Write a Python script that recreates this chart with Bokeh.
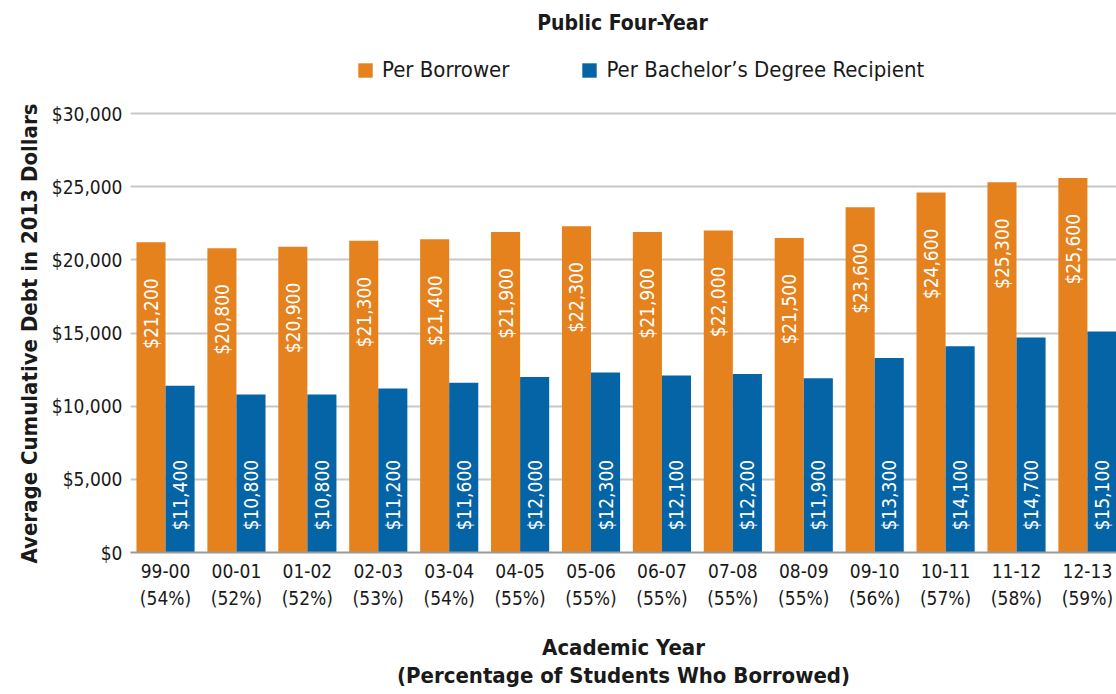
import math
from bokeh.plotting import figure
from bokeh.models import (ColumnDataSource, Range1d, FixedTicker, NumeralTickFormatter,
                          Legend, LegendItem, Label, Title)
from bokeh.transform import dodge
from bokeh.core.properties import value
from bokeh.embed import file_html
from bokeh.resources import INLINE

# ---- data ----
years = ["99-00", "00-01", "01-02", "02-03", "03-04", "04-05", "05-06",
         "06-07", "07-08", "08-09", "09-10", "10-11", "11-12", "12-13"]
pct_borrowed = ["54%", "52%", "52%", "53%", "54%", "55%", "55%",
                "55%", "55%", "55%", "56%", "57%", "58%", "59%"]
per_borrower = [21200, 20800, 20900, 21300, 21400, 21900, 22300,
                21900, 22000, 21500, 23600, 24600, 25300, 25600]
per_bachelor = [11400, 10800, 10800, 11200, 11600, 12000, 12300,
                12100, 12200, 11900, 13300, 14100, 14700, 15100]
y_ticks = [0, 5000, 10000, 15000, 20000, 25000, 30000]
series_names = ["Per Borrower", "Per Bachelor\u2019s Degree Recipient"]
chart_title = "Public Four-Year"
y_title = "Average Cumulative Debt in 2013 Dollars"
x_title = "Academic Year\n(Percentage of Students Who Borrowed)"

# ---- style / layout ----
FONT = "DejaVu Sans Condensed"
ORANGE = "#E6821E"
BLUE = "#0564A6"
TXT = "#1a1a1a"
W, H = 1116, 694
LEFT, BOTTOM = 130, 142
FRAME_H = H - BOTTOM            # frame spans the full height above the x axis
PLOT_TOP = 113                  # pixel row of the $30,000 gridline
Y_MAX = y_ticks[-1] * FRAME_H / (FRAME_H - PLOT_TOP)

idx = list(range(len(years)))
src = ColumnDataSource(dict(
    idx=idx,
    borrower=per_borrower,
    bachelor=per_bachelor,
    borrower_lbl=[f"${v:,}" for v in per_borrower],
    bachelor_lbl=[f"${v:,}" for v in per_bachelor],
    zero=[0] * len(idx),
))

p = figure(width=W, height=H,
           x_range=Range1d(-0.494, 13.41), y_range=Range1d(0, Y_MAX),
           output_backend="svg", toolbar_location=None,
           min_border_left=LEFT, min_border_right=0,
           min_border_top=0, min_border_bottom=BOTTOM)
p.outline_line_color = None
p.background_fill_color = "white"
p.border_fill_color = "white"

BW = 0.41
r1 = p.vbar(x=dodge("idx", -BW / 2, range=p.x_range), top="borrower", width=BW,
            source=src, fill_color=ORANGE, line_color=None)
r2 = p.vbar(x=dodge("idx", BW / 2, range=p.x_range), top="bachelor", width=BW,
            source=src, fill_color=BLUE, line_color=None)

p.text(x=dodge("idx", -BW / 2, range=p.x_range), y="borrower", text="borrower_lbl",
       source=src, angle=math.pi / 2, text_align="right", text_baseline="middle",
       y_offset=36, text_color="white", text_font=value(FONT), text_font_size="19px")
p.text(x=dodge("idx", BW / 2, range=p.x_range), y="zero", text="bachelor_lbl",
       source=src, angle=math.pi / 2, text_align="left", text_baseline="middle",
       y_offset=-22, text_color="white", text_font=value(FONT), text_font_size="19px")

# grid
p.xgrid.grid_line_color = None
p.ygrid.grid_line_color = "#c8c8c8"
p.ygrid.grid_line_width = 2
p.ygrid.ticker = FixedTicker(ticks=y_ticks)

# y axis
ya = p.yaxis[0]
ya.ticker = FixedTicker(ticks=y_ticks)
ya.formatter = NumeralTickFormatter(format="$0,0")
ya.axis_line_color = None
ya.major_tick_line_color = None
ya.minor_tick_line_color = None
ya.major_tick_out = 0
ya.major_label_standoff = 8
ya.major_label_text_font = FONT
ya.major_label_text_font_size = "19px"
ya.major_label_text_color = TXT

# y-axis title (placed along the plotted part of the axis)
p.add_layout(Title(text=y_title, align="left", offset=-11, standoff=14,
                   text_font=FONT, text_font_style="bold", text_font_size="22px",
                   text_color=TXT), "left")

# x axis
xa = p.xaxis[0]
xa.ticker = FixedTicker(ticks=idx)
xa.major_label_overrides = {i: f"{y}\n({pc})" for i, y, pc in zip(idx, years, pct_borrowed)}
xa.axis_line_color = "#9a9a9a"
xa.axis_line_width = 2
xa.major_tick_line_color = None
xa.minor_tick_line_color = None
xa.major_tick_out = 0
xa.major_label_standoff = 7
xa.major_label_text_font = FONT
xa.major_label_text_font_size = "19px"
xa.major_label_text_line_height = 1.25
xa.major_label_text_color = TXT
xa.axis_label = x_title
xa.axis_label_text_font = FONT
xa.axis_label_text_font_style = "bold"
xa.axis_label_text_font_size = "22px"
xa.axis_label_text_line_height = 1.1
xa.axis_label_text_color = TXT
xa.axis_label_standoff = 23

# legend (inside the frame, above the $30,000 line)
legend = Legend(items=[LegendItem(label=series_names[0], renderers=[r1]),
                       LegendItem(label=series_names[1], renderers=[r2])],
                location=(226, FRAME_H - 57 - 25), orientation="horizontal",
                padding=0, margin=0, spacing=71,
                glyph_width=18, glyph_height=18, label_standoff=8,
                label_height=18,
                label_text_font=FONT, label_text_font_size="22px",
                label_text_color=TXT,
                border_line_color=None, background_fill_alpha=0)
p.add_layout(legend)

# chart title
p.add_layout(Label(x=492, y=FRAME_H - 22, x_units="screen", y_units="screen",
                   text=chart_title, text_align="center", text_baseline="middle",
                   text_font=FONT, text_font_style="bold", text_font_size="21px",
                   text_color=TXT))

open("out.html", "w").write(file_html(p, INLINE))
